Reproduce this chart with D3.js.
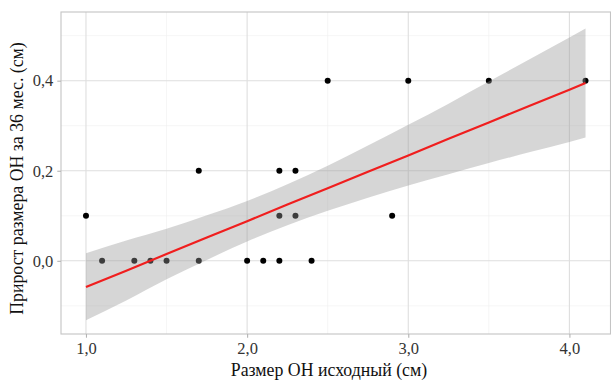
<!DOCTYPE html>
<html><head><meta charset="utf-8">
<script src="https://cdn.jsdelivr.net/npm/d3@7"></script>
<style>body{margin:0;background:#fff;} svg{display:block;}</style>
</head><body>
<svg id="chart" width="611" height="380"></svg>
<script>
// Data points
const pointX = [1.0,1.1,1.3,1.4,1.5,1.7,1.7,2.0,2.1,2.2,2.2,2.2,2.3,2.3,2.4,2.5,2.9,3.0,3.5,4.1];
const pointY = [0.1,0.0,0.0,0.0,0.0,0.0,0.2,0.0,0.0,0.0,0.1,0.2,0.1,0.2,0.0,0.4,0.1,0.4,0.4,0.4];
// Fitted line and confidence band
const fitX     = [1.0,1.25,1.5,1.75,2.0,2.25,2.5,2.75,3.0,3.25,3.5,3.75,4.0,4.1];
const fitY     = [-0.058,-0.022,0.015,0.052,0.088,0.125,0.161,0.198,0.234,0.271,0.307,0.344,0.380,0.395];
const fitLower = [-0.132,-0.088,-0.041,0.002,0.043,0.079,0.111,0.140,0.167,0.192,0.217,0.241,0.264,0.274];
const fitUpper = [0.017,0.045,0.071,0.101,0.133,0.170,0.211,0.256,0.302,0.349,0.398,0.447,0.496,0.516];
// Axes
const xTicks = [1,2,3,4];
const xMinor = [1.5,2.5,3.5];
const yTicks = [0,0.2,0.4];
const yMinor = [-0.1,0.1,0.3,0.5];
const xTitle = "Размер ОН исходный (см)";
const yTitle = "Прирост размера ОН за 36 мес. (см)";

const svg = d3.select("#chart");
const L = 61, T = 12, R = 610.5, B = 334;
const x = d3.scaleLinear().domain([0.845, 4.255]).range([L, R]);
const y = d3.scaleLinear().domain([-0.1625, 0.5525]).range([B, T]);
const fmt = d => d3.format(".1f")(d).replace(".", ",");
const font = "'Liberation Serif', 'DejaVu Serif', serif";

// panel
svg.append("rect").attr("x", L).attr("y", T).attr("width", R - L).attr("height", B - T).attr("fill", "#fff");
const g = svg.append("g");
g.selectAll(".xmin").data(xMinor).enter().append("line")
  .attr("x1", d => x(d)).attr("x2", d => x(d)).attr("y1", T).attr("y2", B)
  .attr("stroke", "#efefef").attr("stroke-width", 0.6);
g.selectAll(".ymin").data(yMinor).enter().append("line")
  .attr("y1", d => y(d)).attr("y2", d => y(d)).attr("x1", L).attr("x2", R)
  .attr("stroke", "#efefef").attr("stroke-width", 0.6);
g.selectAll(".xmaj").data(xTicks).enter().append("line")
  .attr("x1", d => x(d)).attr("x2", d => x(d)).attr("y1", T).attr("y2", B)
  .attr("stroke", "#dedede").attr("stroke-width", 1.1);
g.selectAll(".ymaj").data(yTicks).enter().append("line")
  .attr("y1", d => y(d)).attr("y2", d => y(d)).attr("x1", L).attr("x2", R)
  .attr("stroke", "#dedede").attr("stroke-width", 1.1);

// points
const pts = pointX.map((v, i) => ({x: v, y: pointY[i]}));
svg.append("g").selectAll("circle").data(pts).enter().append("circle")
  .attr("cx", d => x(d.x)).attr("cy", d => y(d.y)).attr("r", 3).attr("fill", "#000");

// ribbon
const band = fitX.map((v, i) => ({x: v, lo: fitLower[i], hi: fitUpper[i], y: fitY[i]}));
svg.append("path").datum(band)
  .attr("d", d3.area().x(d => x(d.x)).y0(d => y(d.lo)).y1(d => y(d.hi)).curve(d3.curveMonotoneX))
  .attr("fill", "#999999").attr("fill-opacity", 0.4);
svg.append("path").datum(band)
  .attr("d", d3.line().x(d => x(d.x)).y(d => y(d.y)))
  .attr("fill", "none").attr("stroke", "#f01e1e").attr("stroke-width", 2.2);

// border
svg.append("rect").attr("x", L).attr("y", T).attr("width", R - L).attr("height", B - T)
  .attr("fill", "none").attr("stroke", "#c4c4c4").attr("stroke-width", 1.1);

// axes
const xa = svg.append("g").attr("transform", `translate(0,${B})`)
  .call(d3.axisBottom(x).tickValues(xTicks).tickFormat(fmt).tickSizeOuter(0).tickSize(3.7).tickPadding(5));
const ya = svg.append("g").attr("transform", `translate(${L},0)`)
  .call(d3.axisLeft(y).tickValues(yTicks).tickFormat(fmt).tickSizeOuter(0).tickSize(3.7).tickPadding(4));
[xa, ya].forEach(a => {
  a.select(".domain").remove();
  a.selectAll(".tick line").attr("stroke", "#b3b3b3").attr("stroke-width", 1.1);
  a.selectAll("text").attr("fill", "#333").style("font-family", font).style("font-size", "16.5px");
});

svg.append("text").attr("x", 329).attr("y", 376).attr("text-anchor", "middle")
  .style("font-family", font).style("font-size", "17.8px").attr("fill", "#111").text(xTitle);
svg.append("text").attr("transform", `translate(23,178.5) rotate(-90)`).attr("text-anchor", "middle")
  .style("font-family", font).style("font-size", "17.8px").attr("fill", "#111").text(yTitle);
</script>
</body></html>
